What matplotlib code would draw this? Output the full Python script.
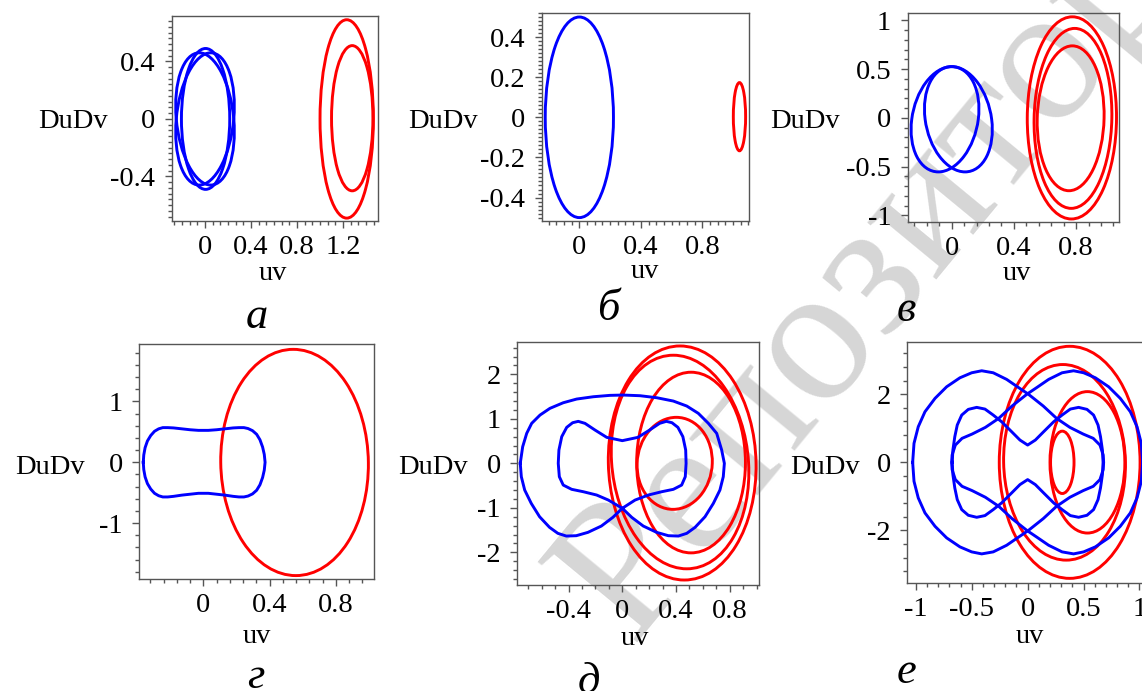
import numpy as np
import matplotlib
matplotlib.use("Agg")
import matplotlib.pyplot as plt
from matplotlib.patches import Circle
from matplotlib.transforms import Affine2D
from matplotlib.ticker import FixedLocator, MultipleLocator

plt.rcParams['font.family'] = ['Liberation Serif', 'DejaVu Serif']
plt.rcParams['axes.unicode_minus'] = False

W, H = 1142, 691
BLUE = '#0000ff'
RED = '#ff0000'
LW = 2.1

# ---- data ----
# near-elliptic loops: centre (cx, cy), half width rx, half height ry, top offset sk
a_blue_cx = [0.005, 0.0, 0.0]
a_blue_cy = [0.0, 0.0, 0.0]
a_blue_rx = [0.21, 0.25, 0.25]
a_blue_ry = [0.49, 0.46, 0.46]
a_blue_sk = [0.0, 0.05, -0.05]
a_red_cx = [1.232, 1.28]
a_red_cy = [0.0, 0.005]
a_red_rx = [0.232, 0.18]
a_red_ry = [0.69, 0.505]
a_red_sk = [0.0, 0.0]

b_blue_cx = [0.0]
b_blue_cy = [0.0]
b_blue_rx = [0.222]
b_blue_ry = [0.5]
b_blue_sk = [0.0]
b_red_cx = [1.042]
b_red_cy = [0.003]
b_red_rx = [0.04]
b_red_ry = [0.17]
b_red_sk = [0.0]

v_blue_cx = [-0.043, 0.043]
v_blue_cy = [-0.015, -0.015]
v_blue_rx = [0.214, 0.214]
v_blue_ry = [0.54, 0.54]
v_blue_sk = [0.043, -0.043]
v_red_cx = [0.773, 0.78, 0.765]
v_red_cy = [-0.001, -0.006, -0.005]
v_red_rx = [0.287, 0.25, 0.215]
v_red_ry = [1.037, 0.923, 0.743]
v_red_sk = [0.003, 0.011, 0.011]

g_red_cx = [0.551]
g_red_cy = [-0.003]
g_red_rx = [0.446]
g_red_ry = [1.86]
g_red_sk = [-0.008]
g_blue_x = [-0.363, -0.36, -0.352, -0.338, -0.318, -0.295, -0.27, -0.245, -0.215, -0.18, -0.13, -0.08,
            -0.03, 0.03, 0.08, 0.13, 0.18, 0.215, 0.245, 0.27, 0.297, 0.322, 0.342, 0.358, 0.368,
            0.373, 0.368, 0.358, 0.342, 0.322, 0.297, 0.27, 0.245, 0.215, 0.18, 0.13, 0.08, 0.03,
            -0.03, -0.08, -0.13, -0.18, -0.215, -0.245, -0.27, -0.295, -0.318, -0.338, -0.352,
            -0.36, -0.363]
g_blue_y = [0.0, 0.12, 0.24, 0.35, 0.44, 0.51, 0.55, 0.57, 0.57, 0.565, 0.55, 0.535,
            0.525, 0.525, 0.535, 0.55, 0.565, 0.57, 0.57, 0.555, 0.52, 0.46, 0.37, 0.25, 0.13,
            0.0, -0.13, -0.25, -0.37, -0.46, -0.52, -0.555, -0.57, -0.57, -0.56, -0.54, -0.525, -0.51,
            -0.51, -0.525, -0.54, -0.56, -0.57, -0.57, -0.55, -0.51, -0.44, -0.35, -0.24,
            -0.12, 0.0]

d_red_cx = [0.446, 0.43, 0.512, 0.39]
d_red_cy = [0.008, 0.03, 0.018, 0.0]
d_red_rx = [0.55, 0.51, 0.405, 0.28]
d_red_ry = [2.63, 2.4, 2.03, 1.034]
d_red_sk = [-0.016, -0.05, 0.0, 0.012]
d_blue_x = [-0.76, -0.742, -0.712, -0.675, -0.613, -0.539, -0.44, -0.34, -0.216, -0.092, 0.007,
            0.132, 0.256, 0.38, 0.48, 0.566, 0.641, 0.703, 0.74, 0.76, 0.752, 0.727, 0.678,
            0.616, 0.542, 0.48, 0.417, 0.343, 0.256, 0.156, 0.07, 0.0, -0.104, -0.191, -0.29,
            -0.377, -0.44, -0.469, -0.477, -0.472, -0.451, -0.414, -0.37, -0.328, -0.278, -0.203,
            -0.116, 0.0, 0.116, 0.203, 0.278, 0.328, 0.37, 0.414, 0.451, 0.472, 0.475, 0.469,
            0.442, 0.38, 0.293, 0.194, 0.095, 0.0, -0.07, -0.156, -0.256, -0.343, -0.417,
            -0.48, -0.542, -0.616, -0.678, -0.727, -0.752, -0.76]
d_blue_y = [0.0, 0.373, 0.674, 0.899, 1.085, 1.236, 1.362, 1.445, 1.497, 1.528, 1.535,
            1.52, 1.475, 1.4, 1.288, 1.124, 0.899, 0.674, 0.3, 0.0, -0.3, -0.6, -0.9,
            -1.2, -1.438, -1.573, -1.634, -1.626, -1.551, -1.409, -1.213, -1.01, -0.825, -0.712, -0.638,
            -0.584, -0.488, -0.3, 0.0, 0.3, 0.6, 0.809, 0.913, 0.944, 0.899, 0.748,
            0.584, 0.51, 0.584, 0.748, 0.899, 0.944, 0.913, 0.809, 0.6, 0.3, 0.0, -0.3,
            -0.488, -0.584, -0.638, -0.712, -0.825, -1.01, -1.213, -1.409, -1.551, -1.626, -1.634,
            -1.573, -1.438, -1.2, -0.9, -0.6, -0.3, 0.0]

e_red_cx = [0.376, 0.33, 0.535, 0.31]
e_red_cy = [0.0, 0.0, 0.0, 0.0]
e_red_rx = [0.63, 0.545, 0.335, 0.105]
e_red_ry = [3.405, 2.87, 2.075, 0.915]
e_red_sk = [0.0, -0.015, 0.0, 0.0]
e_left_x = [-1.029, -1.017, -0.979, -0.919, -0.829, -0.725, -0.606, -0.501, -0.411, -0.308,
            -0.188, -0.084, 0.005, 0.14, 0.259, 0.378, 0.497, 0.587, 0.647, 0.676, 0.68,
            0.676, 0.647, 0.587, 0.497, 0.378, 0.259, 0.14, 0.005, -0.084, -0.188, -0.308,
            -0.411, -0.501, -0.606, -0.725, -0.829, -0.919, -0.979, -1.017, -1.029]
e_left_y = [0.0, 0.557, 1.044, 1.484, 1.877, 2.217, 2.481, 2.628, 2.687, 2.628,
            2.434, 2.2, 2.003, 1.651, 1.29, 1.026, 0.83, 0.704, 0.507, 0.214, 0.0,
            -0.214, -0.507, -0.704, -0.83, -1.026, -1.29, -1.651, -2.003, -2.2, -2.434, -2.628,
            -2.687, -2.628, -2.481, -2.217, -1.877, -1.484, -1.044, -0.557, 0.0]
e_right_x = [1.029, 1.017, 0.979, 0.919, 0.829, 0.725, 0.606, 0.501, 0.411, 0.308,
             0.188, 0.084, -0.005, -0.14, -0.259, -0.378, -0.497, -0.587, -0.647, -0.676, -0.68,
             -0.676, -0.647, -0.587, -0.497, -0.378, -0.259, -0.14, -0.005, 0.084, 0.188, 0.308,
             0.411, 0.501, 0.606, 0.725, 0.829, 0.919, 0.979, 1.017, 1.029]
e_right_y = [0.0, 0.557, 1.044, 1.484, 1.877, 2.217, 2.481, 2.628, 2.687, 2.628,
             2.434, 2.2, 2.003, 1.651, 1.29, 1.026, 0.83, 0.704, 0.507, 0.214, 0.0,
             -0.214, -0.507, -0.704, -0.83, -1.026, -1.29, -1.651, -2.003, -2.2, -2.434, -2.628,
             -2.687, -2.628, -2.481, -2.217, -1.877, -1.484, -1.044, -0.557, 0.0]
e_mid_x = [-0.675, -0.669, -0.652, -0.63, -0.59, -0.531, -0.456, -0.382, -0.308, -0.233, -0.143,
           -0.069, 0.0, 0.069, 0.143, 0.233, 0.308, 0.382, 0.456, 0.531, 0.59, 0.63, 0.652,
           0.669, 0.675, 0.669, 0.652, 0.63, 0.59, 0.531, 0.456, 0.382, 0.308, 0.233, 0.143,
           0.069, 0.0, -0.069, -0.143, -0.233, -0.308, -0.382, -0.456, -0.531, -0.59, -0.63,
           -0.652, -0.669, -0.675]
e_mid_y = [0.0, 0.361, 0.751, 1.094, 1.387, 1.554, 1.613, 1.563, 1.387, 1.191, 0.898,
           0.654, 0.507, 0.654, 0.898, 1.191, 1.387, 1.563, 1.613, 1.554, 1.387, 1.094, 0.751,
           0.361, 0.0, -0.361, -0.751, -1.094, -1.387, -1.554, -1.613, -1.563, -1.387, -1.191, -0.898,
           -0.654, -0.507, -0.654, -0.898, -1.191, -1.387, -1.563, -1.613, -1.554, -1.387, -1.094,
           -0.751, -0.361, 0.0]

# tick labels
a_xt = [0, 0.4, 0.8, 1.2]; a_xl = ['0', '0.4', '0.8', '1.2']
a_yt = [-0.4, 0, 0.4]; a_yl = ['-0.4', '0', '0.4']
b_xt = [0, 0.4, 0.8]; b_xl = ['0', '0.4', '0.8']
b_yt = [-0.4, -0.2, 0, 0.2, 0.4]; b_yl = ['-0.4', '-0.2', '0', '0.2', '0.4']
v_xt = [0, 0.4, 0.8]; v_xl = ['0', '0.4', '0.8']
v_yt = [-1, -0.5, 0, 0.5, 1]; v_yl = ['-1', '-0.5', '0', '0.5', '1']
g_xt = [0, 0.4, 0.8]; g_xl = ['0', '0.4', '0.8']
g_yt = [-1, 0, 1]; g_yl = ['-1', '0', '1']
d_xt = [-0.4, 0, 0.4, 0.8]; d_xl = ['-0.4', '0', '0.4', '0.8']
d_yt = [-2, -1, 0, 1, 2]; d_yl = ['-2', '-1', '0', '1', '2']
e_xt = [-1, -0.5, 0, 0.5, 1]; e_xl = ['-1', '-0.5', '0', '0.5', '1']
e_yt = [-2, 0, 2]; e_yl = ['-2', '0', '2']

watermark = 'Репозиторий БНТУ'


def fx(px):
    return px / W


def fy(py):
    return 1 - py / H


def make_axes(fig, box, xlim, ylim, xt, xl, yt, yl, xminor, yminor):
    l, t, r, b = box
    ax = fig.add_axes([fx(l), fy(b), (r - l) / W, (b - t) / H])
    ax.set_facecolor('none')
    ax.set_xlim(*xlim)
    ax.set_ylim(*ylim)
    ax.xaxis.set_major_locator(FixedLocator(xt))
    ax.set_xticklabels(xl)
    ax.yaxis.set_major_locator(FixedLocator(yt))
    ax.set_yticklabels(yl)
    ax.xaxis.set_minor_locator(MultipleLocator(xminor))
    ax.yaxis.set_minor_locator(MultipleLocator(yminor))
    ax.tick_params(which='both', direction='out', top=False, right=False,
                   color='#555555', labelsize=20.5, width=1)
    ax.tick_params(which='major', length=5)
    ax.tick_params(which='minor', length=3)
    ax.tick_params(axis='x', pad=5)
    ax.tick_params(axis='y', pad=7)
    for s in ax.spines.values():
        s.set_color('#555555')
        s.set_linewidth(1)
    return ax


def draw_loops(ax, cx, cy, rx, ry, sk, color):
    for x0, y0, a, b, s in zip(cx, cy, rx, ry, sk):
        m = Affine2D(np.array([[a, s, x0], [0, b, y0], [0, 0, 1]]))
        ax.add_patch(Circle((0, 0), 1, transform=m + ax.transData, fill=False,
                            ec=color, lw=LW))


def labels(fig, uv, dudv, letter, name):
    fig.text(fx(uv[0]), fy(uv[1]), 'uv', ha='center', va='baseline', fontsize=20.5)
    fig.text(fx(dudv[0]), fy(dudv[1]), 'DuDv', ha='center', va='baseline', fontsize=20.5)
    fig.text(fx(letter[0]), fy(letter[1]), name, ha='center', va='baseline',
             fontsize=32, style='italic')


fig = plt.figure(figsize=(W / 100, H / 100), dpi=100)

# light grey repository stamp behind the panels
fig.text(fx(598), fy(618), watermark, rotation=50.5, rotation_mode='anchor',
         ha='left', va='center', fontsize=141, color='#d6d6d6', zorder=-1)

# а
ax = make_axes(fig, (172, 16, 378, 221), (-0.287, 1.504), (-0.71, 0.716),
               a_xt, a_xl, a_yt, a_yl, 0.4 / 6, 0.04)
draw_loops(ax, a_blue_cx, a_blue_cy, a_blue_rx, a_blue_ry, a_blue_sk, BLUE)
draw_loops(ax, a_red_cx, a_red_cy, a_red_rx, a_red_ry, a_red_sk, RED)
labels(fig, (273, 280), (73, 128), (257, 328), 'а')

# б
ax = make_axes(fig, (541.7, 13, 749, 221), (-0.245, 1.104), (-0.517, 0.52),
               b_xt, b_xl, b_yt, b_yl, 0.05, 0.02)
draw_loops(ax, b_blue_cx, b_blue_cy, b_blue_rx, b_blue_ry, b_blue_sk, BLUE)
draw_loops(ax, b_red_cx, b_red_cy, b_red_rx, b_red_ry, b_red_sk, RED)
labels(fig, (645, 278), (443, 128), (608, 320), 'б')

# в
ax = make_axes(fig, (907.7, 13.3, 1119, 222.3), (-0.283, 1.076), (-1.072, 1.072),
               v_xt, v_xl, v_yt, v_yl, 0.08, 0.1)
draw_loops(ax, v_red_cx, v_red_cy, v_red_rx, v_red_ry, v_red_sk, RED)
draw_loops(ax, v_blue_cx, v_blue_cy, v_blue_rx, v_blue_ry, v_blue_sk, BLUE)
labels(fig, (1017, 280), (805, 128), (906, 321), 'в')

# г
ax = make_axes(fig, (139.3, 344.3, 374, 579.3), (-0.387, 1.031), (-1.924, 1.94),
               g_xt, g_xl, g_yt, g_yl, 0.08, 0.2)
draw_loops(ax, g_red_cx, g_red_cy, g_red_rx, g_red_ry, g_red_sk, RED)
ax.plot(g_blue_x, g_blue_y, color=BLUE, lw=LW, solid_joinstyle='round')
labels(fig, (257, 643), (50, 474), (256, 688), 'г')

# д
ax = make_axes(fig, (517.3, 341.7, 759, 585), (-0.782, 1.018), (-2.734, 2.734),
               d_xt, d_xl, d_yt, d_yl, 0.1, 0.2)
draw_loops(ax, d_red_cx, d_red_cy, d_red_rx, d_red_ry, d_red_sk, RED)
ax.plot(d_blue_x, d_blue_y, color=BLUE, lw=LW, solid_joinstyle='round')
labels(fig, (635, 645), (433, 474), (589, 693), 'д')

# е
ax = make_axes(fig, (907.3, 341.7, 1148, 583.3), (-1.077, 1.077), (-3.55, 3.54),
               e_xt, e_xl, e_yt, e_yl, 0.1, 0.4)
draw_loops(ax, e_red_cx, e_red_cy, e_red_rx, e_red_ry, e_red_sk, RED)
for xs, ys in [(e_left_x, e_left_y), (e_right_x, e_right_y), (e_mid_x, e_mid_y)]:
    ax.plot(xs, ys, color=BLUE, lw=LW, solid_joinstyle='round')
labels(fig, (1030, 643), (825, 474), (907, 683), 'е')

fig.savefig('out.png', dpi=100)
